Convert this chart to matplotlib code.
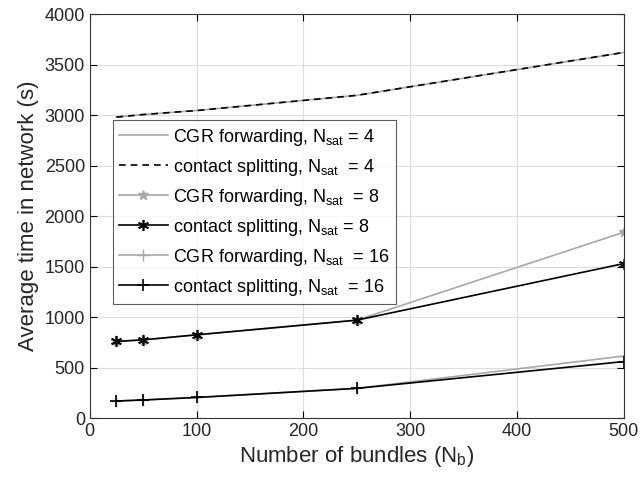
import numpy as np
import matplotlib.pyplot as plt

plt.rcParams['font.family'] = ['Liberation Sans', 'DejaVu Sans']
plt.rcParams['mathtext.fontset'] = 'custom'
plt.rcParams['mathtext.rm'] = 'Liberation Sans'

bundles = [25, 50, 100, 250, 500]

cgr_4 = [2980, 3005, 3045, 3195, 3620]
cs_4 = [2980, 3005, 3045, 3195, 3620]
cgr_8 = [760, 775, 825, 970, 1840]
cs_8 = [760, 775, 825, 970, 1530]
cgr_16 = [170, 180, 205, 295, 615]
cs_16 = [170, 180, 205, 295, 560]

gray = '#A8A8A8'

fig = plt.figure(figsize=(6.41, 4.84), dpi=100)
ax = fig.add_axes([0.140, 0.136, 0.833, 0.835])

ax.plot(bundles, cgr_4, color=gray, lw=1.2, label=r'CGR forwarding, N$_{\rm sat}$ = 4')
ax.plot(bundles, cs_4, color='k', lw=1.2, ls=(0, (4, 3)), label=r'contact splitting, N$_{\rm sat}$  = 4')
ax.plot(bundles, cgr_8, color=gray, lw=1.2, marker='*', ms=7, mew=1,
        label=r'CGR forwarding, N$_{\rm sat}$  = 8')
ax.plot(bundles, cs_8, color='k', lw=1.2, marker=(6, 2, 0), ms=8, mew=1.2,
        label=r'contact splitting, N$_{\rm sat}$ = 8')
ax.plot(bundles, cgr_16, color=gray, lw=1.2, marker='+', ms=8, mew=1,
        label=r'CGR forwarding, N$_{\rm sat}$  = 16')
ax.plot(bundles, cs_16, color='k', lw=1.2, marker='+', ms=8, mew=1.2,
        label=r'contact splitting, N$_{\rm sat}$  = 16')

ax.set_xlim(0, 500)
ax.set_ylim(0, 4000)
ax.set_xticks(np.arange(0, 501, 100))
ax.set_yticks(np.arange(0, 4001, 500))
ax.grid(True, color='#DDDDDD', lw=0.8)
ax.set_axisbelow(True)
ax.tick_params(direction='in', top=True, right=True, labelsize=13, length=5,
               labelcolor='#262626')
for s in ax.spines.values():
    s.set_color('#333333')
    s.set_linewidth(0.8)

ax.set_xlabel(r'Number of bundles (N$_{\rm b}$)', fontsize=16, color='#262626', labelpad=3)
ax.set_ylabel('Average time in network (s)', fontsize=16, color='#262626', labelpad=4)

leg = ax.legend(loc='upper left', bbox_to_anchor=(0.043, 0.737), fontsize=13,
                frameon=True, fancybox=False, edgecolor='#333333',
                handlelength=2.7, borderpad=0.35, labelspacing=0.5,
                handletextpad=0.3, borderaxespad=0)
leg.get_frame().set_linewidth(0.8)

fig.savefig('out.png', dpi=100)
